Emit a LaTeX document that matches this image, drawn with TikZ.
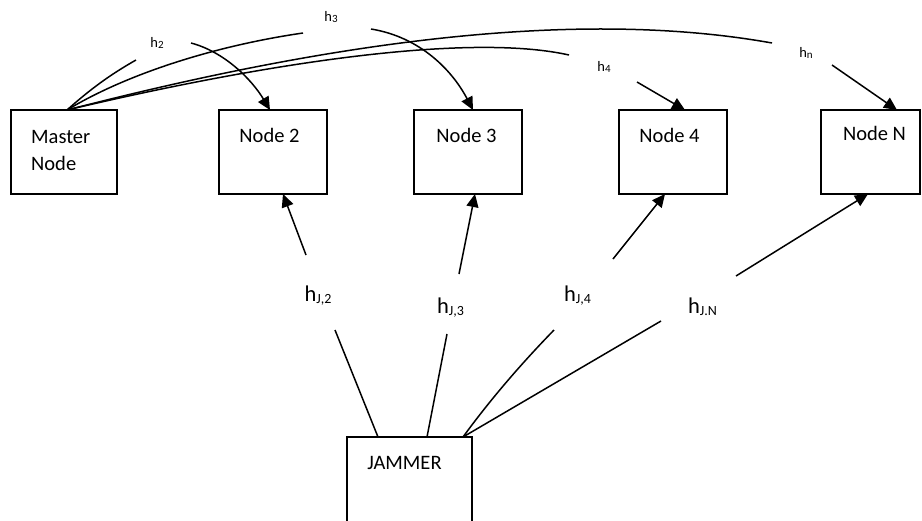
\documentclass[tikz,border=0pt]{standalone}
\usepackage{fontspec}
\setmainfont{Carlito}
\usetikzlibrary{arrows.meta}
\begin{document}
\begin{tikzpicture}[x=1pt,y=-1pt,
  box/.style={draw, line width=1.6pt, inner sep=0pt, outer sep=0pt, anchor=north west, minimum height=84pt},
  txt/.style={font=\fontsize{20.5}{27}\selectfont, inner sep=0pt},
  lbl/.style={font=\fontsize{14.5}{16}\selectfont, inner sep=0pt},
  jl/.style={font=\fontsize{22.5}{26}\selectfont, inner sep=0pt},
  con/.style={line width=1.5pt},
  arr/.style={line width=1.5pt, -{Triangle[length=13pt,width=12pt]}}]
\clip (0,0) rectangle (922,520);
% boxes
\node[box, minimum width=106pt] (m) at (11,110) {};
\node[box, minimum width=108pt] (n2) at (219,110) {};
\node[box, minimum width=108pt] (n3) at (414,110) {};
\node[box, minimum width=108pt] (n4) at (619,110) {};
\node[box, minimum width=99pt] (nN) at (821,110) {};
\node[box, minimum width=125pt, minimum height=110pt] (jam) at (347,437) {};
% box texts
\node[txt, align=left, anchor=west] (tm) at (31,150) {Master\\Node};
\node[txt] (t2) at (269.5,135) {Node 2};
\node[txt] (t3) at (466.5,135) {Node 3};
\node[txt] (t4) at (669.5,135) {Node 4};
\node[txt] (tN) at (874.5,133) {Node N};
\node[txt] (tj) at (404.5,463) {JAMMER};
% small labels
\node[lbl] (h2) at (157,43) {h\raisebox{-1.5pt}{\fontsize{11}{12}\selectfont 2}};
\node[lbl] (h3) at (331,17) {h\raisebox{-1.5pt}{\fontsize{11}{12}\selectfont 3}};
\node[lbl] (h4) at (604,67) {h\raisebox{-1.5pt}{\fontsize{11}{12}\selectfont 4}};
\node[lbl] (hn) at (806,53) {h\raisebox{-1.5pt}{\fontsize{11}{12}\selectfont n}};
% jammer labels
\node[jl] (hj2) at (318,296) {h\raisebox{-2pt}{\fontsize{14}{16}\selectfont J,2}};
\node[jl] (hj3) at (450.5,308) {h\raisebox{-2pt}{\fontsize{14}{16}\selectfont J,3}};
\node[jl] (hj4) at (577.5,296) {h\raisebox{-2pt}{\fontsize{14}{16}\selectfont J,4}};
\node[jl] (hjN) at (702.5,307) {h\raisebox{-2pt}{\fontsize{14}{16}\selectfont J.N}};
% coordinates
\coordinate (m0) at ([xshift=3pt]m.north);
\coordinate (e2) at (136,60);
\coordinate (s2) at (191,43);
\coordinate (e3) at (303,33);
\coordinate (s3) at (371,29);
\coordinate (e4) at (569,55);
\coordinate (s4) at (637,82);
\coordinate (eN) at (772,43);
\coordinate (sN) at (832,65);
\coordinate (j2) at ([xshift=31pt]jam.north west);
\coordinate (j3) at ([xshift=80pt]jam.north west);
\coordinate (j4) at ([xshift=116pt]jam.north west);
\coordinate (f2) at (335,330);
\coordinate (g2) at (306,255);
\coordinate (f3) at (447,334);
\coordinate (g3) at (459,274);
\coordinate (f4) at (554,330);
\coordinate (g4) at (613,259);
\coordinate (fN) at (661,321);
\coordinate (gN) at (736,276);
% master to nodes
\draw[con] (m0) .. controls (95,85) and (115,72) .. (e2);
\draw[arr] (s2) .. controls (225,52) and (252,80) .. ([xshift=-3pt]n2.north);
\draw[con] (m0) .. controls (130,72) and (220,45) .. (e3);
\draw[arr] (s3) .. controls (420,37) and (452,70) .. ([xshift=5pt]n3.north);
\draw[con] (m0) .. controls (300,55) and (480,35) .. (e4);
\draw[arr] (s4) -- ([xshift=12pt]n4.north);
\draw[con] (m0) .. controls (300,50) and (560,5) .. (eN);
\draw[arr] (sN) -- ([xshift=26.5pt]nN.north);
% jammer to nodes
\draw[con] (j2) -- (f2);
\draw[arr] (g2) -- ([xshift=10pt]n2.south);
\draw[con] (j3) -- (f3);
\draw[arr] (g3) -- ([xshift=7pt]n3.south);
\draw[con] (j4) .. controls (490,400) and (520,365) .. (f4);
\draw[arr] (g4) -- ([xshift=-8pt]n4.south);
\draw[con] (j4) -- (fN);
\draw[arr] (gN) -- ([xshift=-2.5pt]nN.south);
\end{tikzpicture}
\end{document}
